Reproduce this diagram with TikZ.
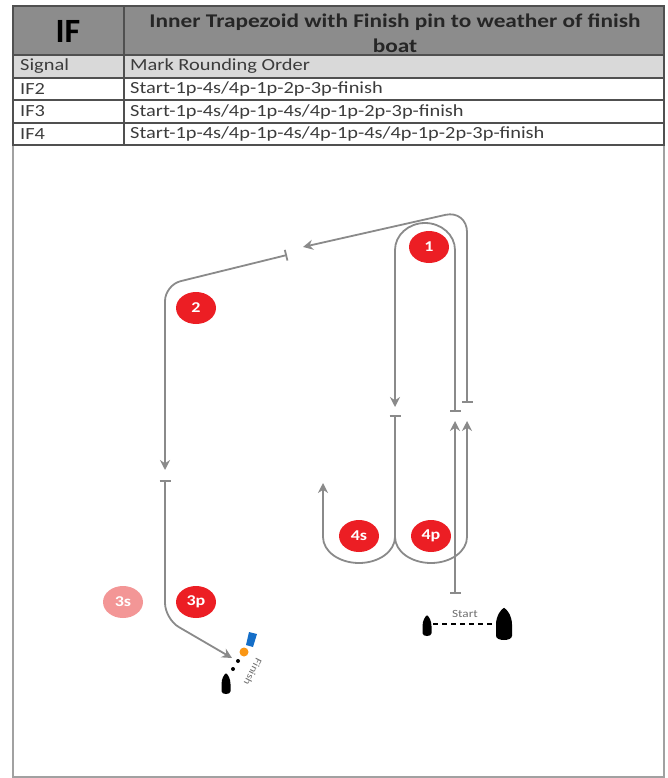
\documentclass[tikz,border=0pt]{standalone}
\usepackage{fontspec}
\setmainfont{Carlito}[FakeStretch=1.2]
\newfontfamily\plainfont{Carlito}
\usepackage{tikz}
\usetikzlibrary{arrows.meta}
\usetikzlibrary{shapes.geometric}
\definecolor{mred}{RGB}{236, 30, 36}
\definecolor{mpink}{RGB}{243, 150, 150}
\definecolor{lgray}{RGB}{138, 138, 138}
\definecolor{hgray}{RGB}{140, 140, 140}
\definecolor{sgray}{RGB}{217, 217, 217}
\definecolor{rgray}{RGB}{80, 80, 80}
\definecolor{tgray}{RGB}{60, 60, 60}
\definecolor{fblue}{RGB}{20, 110, 200}
\definecolor{forange}{RGB}{250, 150, 20}
\tikzset{rule/.style = {draw=rgray, line width=1.6pt}}
\tikzset{frame/.style = {draw=lgray!80, line width=2pt}}
\tikzset{row/.style = {anchor=west, inner sep=0, text=tgray,
                       font=\fontsize{17}{17}\selectfont}}
\tikzset{mk/.style = {ellipse, fill=mred, text=white, inner sep=0,
                      minimum width=40pt, minimum height=32pt,
                      font=\bfseries\fontsize{15}{15}\selectfont}}
\tikzset{leg/.style = {draw=lgray, line width=1.8pt,
                       {Bar[width=11pt]}-{Stealth[length=10pt,width=10pt]}}}
\tikzset{fork/.style = {leg, -{Stealth[length=10pt,width=10pt]}}}
\tikzset{boat/.pic = {\fill (-5,-1) .. controls (-5,-7) and (-2,-12) .. (0,-13)
                        .. controls (2,-12) and (5,-7) .. (5,-1) -- (5,7)
                        .. controls (5,11) and (-5,11) .. (-5,7) -- cycle;}}

\begin{document}
\begin{tikzpicture}[x=1pt, y=-1pt]
    \useasboundingbox (0,0) rectangle (668,778);
    \fill[hgray] (13,6) rectangle (664,55);
    \fill[sgray] (13,55) rectangle (664,78);
    \draw[frame] (13,145) -- (13,777) -- (664,777) -- (664,145);
    \draw[rule] (13,6) rectangle (664,145);
    \foreach \y in {55,78,100,123} {
      \draw[rule] (13,\y) -- (664,\y);
    }
    \draw[rule] (124,6) -- (124,145);
    \node [font=\plainfont\bfseries\fontsize{34}{34}\selectfont] (if) at (68,31) {IF};
    \node [font=\bfseries\fontsize{19.4}{25}\selectfont, align=center, text=black!85]
      (title) at (395,33) {Inner Trapezoid with Finish pin to weather of finish\\boat};
    \node [row] (sig) at (20,66.5) {Signal};
    \node [row] (ord) at (130,66.5) {Mark Rounding Order};
    \node [row] (if2) at (20,89) {IF2};
    \node [row] (or2) at (130,89) {Start-1p-4s/4p-1p-2p-3p-finish};
    \node [row] (if3) at (20,111.5) {IF3};
    \node [row] (or3) at (130,111.5) {Start-1p-4s/4p-1p-4s/4p-1p-2p-3p-finish};
    \node [row] (if4) at (20,134) {IF4};
    \node [row] (or4) at (130,134) {Start-1p-4s/4p-1p-4s/4p-1p-4s/4p-1p-2p-3p-finish};

    \foreach \n/\x/\y in {1/429/247, 2/196/308, 4s/359/536, 4p/431/536, 3p/196/602} {
      \node [mk] (m\n) at (\x, \y) {\n};
    }
    \node [mk, fill=mpink] (m3s) at (123,602) {3s};

    \coordinate (start) at (455,594);
    \coordinate (s1) at (455,421);
    \coordinate (r1) at (455,412);
    \coordinate (a1) at (395,407);
    \coordinate (r4) at (395,415);
    \coordinate (fk) at (395,537);
    \coordinate (a4s) at (323,483);
    \coordinate (a4p) at (467,421);
    \coordinate (r1b) at (467,403);
    \coordinate (a2) at (303,247);
    \coordinate (r2) at (287,255);
    \coordinate (a3) at (165,470);
    \coordinate (r3) at (165,480);
    \coordinate (fin) at (232,658);

    \draw [leg] (start) -- (s1);
    \draw [leg] (r1) -- (455,250) arc[start angle=0, end angle=-180, x radius=30, y radius=27] -- (a1);
    \draw [leg] (r4) -- (fk) arc[start angle=0, end angle=180, x radius=36, y radius=26] -- (a4s);
    \draw [fork] (fk) arc[start angle=180, end angle=0, x radius=36, y radius=26] -- (a4p);
    \draw [leg, rounded corners=22pt] (r1b) -- (467,210) -- (a2);
    \draw [leg, rounded corners=16pt] (r2) -- (165,285) -- (a3);
    \draw [leg, rounded corners=16pt] (r3) -- (165,619) -- (fin);

    \pic [scale=0.9] at (427,627) {boat};
    \pic [xscale=1.6, yscale=1.4] at (504,626) {boat};
    \draw [black, line width=2.5pt, dash pattern=on 5pt off 4pt] (433,624) -- (495,624);
    \node [text=lgray!80!black, font=\fontsize{11}{11}\selectfont] (stxt) at (465,614) {Start};

    \pic [scale=0.9] at (226,685) {boat};
    \fill (238,661) circle[radius=2];
    \fill (233,669) circle[radius=2];
    \fill [forange] (244,652) circle[radius=4.5];
    \fill [fblue] (249,632) -- (257,634) -- (253,647) -- (246,645) -- cycle;
    \node [rotate=-117, text=lgray!80!black, font=\fontsize{10}{10}\selectfont] (ftxt) at (253,672) {Finish};
  \end{tikzpicture}
\end{document}
